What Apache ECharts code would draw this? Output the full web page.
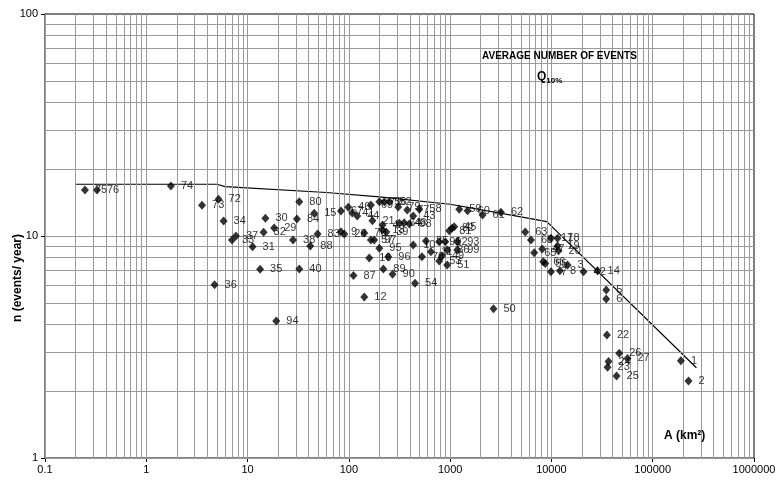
<!DOCTYPE html>
<html>
<head>
<meta charset="utf-8">
<script src="https://cdn.jsdelivr.net/npm/echarts@6/dist/echarts.min.js"></script>
<style>
  html, body { margin: 0; padding: 0; background: #fff; }
  #chart { width: 779px; height: 486px; }
</style>
</head>
<body>
<div id="chart"></div>
<script>
// Axis tick labels
const xTickLabels = ['0.1', '1', '10', '100', '1000', '10000', '100000', '1000000'];
const yTickLabels = ['1', '10', '100'];

// Catchment id, area A (km2) and average number of events n (events/year)
const stationIds = [
  75, 76, 74, 73, 72, 34, 33, 37, 31, 36, 35, 30, 32, 29, 80, 84, 38, 88, 83, 15, 40, 87, 12, 94,
  67, 46, 41, 44, 69, 21, 71, 56, 52, 79, 77, 58, 43, 64, 48, 98, 4, 13, 39, 9, 28, 70, 57, 97, 95, 96, 16, 89, 90, 54,
  59, 60, 61, 62, 50, 45, 82, 81, 10, 85, 91, 92, 93, 11, 78, 49, 86, 99, 53, 51,
  63, 68, 65, 47, 66, 55, 7, 8, 3, 42, 14, 17, 18, 19, 20, 5, 6, 22, 26, 27, 24, 23, 25, 1, 2
];
const areaKm2 = [
  0.248, 0.326, 1.75, 3.55, 5.17, 5.80, 7.01, 7.68, 11.2, 4.72, 13.3, 15.0, 14.4, 18.3, 32.4, 30.7, 28.1, 41.6, 49.1, 45.5, 32.4, 111, 142, 19.2,
  83.6, 98.6, 108, 121, 165, 171, 200, 224, 251, 307, 377, 496, 432, 315, 352, 395, 215, 214, 234, 83.6, 90.1, 142, 165, 178, 200, 245, 159, 219, 270, 450,
  1230, 1486, 2090, 3170, 2680, 1097, 1042, 980, 432, 577, 780, 895, 1175, 646, 527, 830, 936, 1175, 780, 936,
  5510, 6280, 6760, 8110, 8300, 8690, 9890, 12130, 14420, 20740, 28510, 9890, 11480, 11480, 11750, 34750, 34750, 35320, 46700, 56360, 36640, 35810, 43950, 189700, 225600
];
const eventsPerYear = [
  16.1, 16.1, 16.8, 13.75, 14.63, 11.68, 9.59, 10.0, 8.95, 6.03, 7.08, 12.02, 10.39, 10.86, 14.27, 11.93, 9.59, 9.01, 10.21, 12.66, 7.10, 6.63, 5.31, 4.14,
  12.96, 13.47, 12.69, 12.31, 13.79, 11.72, 14.27, 14.27, 14.27, 13.51, 13.09, 13.19, 12.31, 11.41, 11.48, 11.33, 11.21, 10.64, 10.42, 10.46, 10.21, 10.31, 9.59, 9.59, 8.80, 8.07, 7.96, 7.10, 6.72, 6.12,
  13.19, 13.0, 12.43, 12.79, 4.70, 11.01, 10.83, 10.56, 9.11, 9.49, 9.43, 9.43, 9.43, 8.50, 8.07, 8.13, 8.65, 8.65, 7.72, 7.40,
  10.42, 9.59, 8.41, 8.74, 7.66, 7.52, 6.91, 6.98, 7.40, 6.91, 6.98, 9.76, 9.76, 9.01, 8.58, 5.71, 5.20, 3.58, 2.96, 2.81, 2.72, 2.56, 2.34, 2.74, 2.22
];

// Upper envelope of the observations
const envelopeArea = [0.2, 5, 6, 60, 200, 1000, 5000, 9000, 270000];
const envelopeEvents = [17.1, 17.1, 16.7, 15.7, 15.0, 13.9, 12.2, 11.6, 2.55];

const FONT = 'Arial, "Liberation Sans", Helvetica, sans-serif';

// Logarithmic grid: every 1..9 multiple of each decade
const gridX = [];
for (let e = -1; e <= 5; e++) for (let m = 1; m <= 9; m++) gridX.push(m * Math.pow(10, e));
const gridY = [];
for (let e = 0; e <= 1; e++) for (let m = 1; m <= 9; m++) gridY.push(m * Math.pow(10, e));

const points = stationIds.map((id, i) => [areaKm2[i], eventsPerYear[i], String(id)]);
const envelope = envelopeArea.map((a, i) => [a, envelopeEvents[i]]);

const chart = echarts.init(document.getElementById('chart'), null, { renderer: 'canvas' });

chart.setOption({
  animation: false,
  backgroundColor: '#ffffff',
  grid: {
    left: 45, right: 25, top: 14, bottom: 28,
    show: true, borderColor: '#000', borderWidth: 1, backgroundColor: 'transparent'
  },
  xAxis: {
    type: 'log', logBase: 10, min: 0.1, max: 1000000,
    axisLine: { show: true, onZero: false, lineStyle: { color: '#000', width: 1 } },
    axisTick: { show: true, length: 4, lineStyle: { color: '#000' } },
    splitLine: { show: false },
    axisLabel: {
      margin: 6, color: '#000', fontSize: 11, fontFamily: FONT,
      formatter: v => xTickLabels[Math.round(Math.log10(v)) + 1]
    }
  },
  yAxis: {
    type: 'log', logBase: 10, min: 1, max: 100,
    axisLine: { show: true, onZero: false, lineStyle: { color: '#000', width: 1 } },
    axisTick: { show: true, length: 4, lineStyle: { color: '#000' } },
    splitLine: { show: false },
    axisLabel: {
      margin: 7, color: '#000', fontSize: 11, fontFamily: FONT,
      formatter: v => yTickLabels[Math.round(Math.log10(v))]
    }
  },
  graphic: [
    { type: 'rect', z: 3, silent: true, shape: { x: 447, y: 47, width: 194, height: 49 }, style: { fill: '#fff' } },
    { type: 'rect', z: 3, silent: true, shape: { x: 656, y: 420, width: 65, height: 37 }, style: { fill: '#fff' } },
    {
      type: 'text', z: 6, left: 482, top: 51,
      style: { text: 'AVERAGE NUMBER OF EVENTS', fill: '#000', font: 'bold 10px ' + FONT }
    },
    {
      type: 'text', z: 6, left: 537, top: 71,
      style: {
        text: '{q|Q}{s|10%}', fill: '#000',
        rich: {
          q: { font: 'bold 12px ' + FONT, fill: '#000' },
          s: { font: 'bold 8px ' + FONT, fill: '#000', padding: [8, 0, 0, 0] }
        }
      }
    },
    {
      type: 'text', z: 6, left: 664, top: 430,
      style: { text: 'A (km²)', fill: '#000', font: 'bold 12px ' + FONT }
    },
    {
      type: 'text', z: 6, x: 12, y: 322, rotation: Math.PI / 2,
      style: { text: 'n (events/ year)', fill: '#000', font: 'bold 12px ' + FONT }
    }
  ],
  series: [
    {
      name: 'grid', type: 'line', data: [], z: 1, silent: true,
      markLine: {
        silent: true, symbol: 'none', animation: false,
        label: { show: false },
        lineStyle: { color: '#9a9a9a', width: 1, type: 'solid' },
        emphasis: { disabled: true },
        data: gridX.map(v => ({ xAxis: v })).concat(gridY.map(v => ({ yAxis: v })))
      }
    },
    {
      name: 'envelope', type: 'line', data: envelope, z: 4,
      showSymbol: false, symbol: 'none', smooth: false,
      lineStyle: { color: '#000', width: 1.2 }
    },
    {
      name: 'stations', type: 'scatter', data: points, z: 5,
      symbol: 'diamond', symbolSize: [8, 9],
      itemStyle: { color: '#000' },
      label: {
        show: true, position: 'right', distance: 6,
        color: '#000', fontSize: 11, fontFamily: FONT,
        formatter: p => p.data[2]
      }
    }
  ]
});
</script>
</body>
</html>
